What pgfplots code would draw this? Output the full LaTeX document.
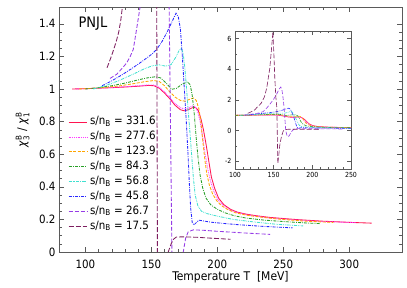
\documentclass[border=0pt]{standalone}
\usepackage{fontspec}
\setmainfont{DejaVu Sans Condensed}
\usepackage{amsmath}
\usepackage{pgfplots}
\usepackage{pgfplotstable}
\pgfplotsset{compat=1.18}

\definecolor{cA}{RGB}{255,20,80}
\definecolor{cB}{RGB}{255,60,255}
\definecolor{cC}{RGB}{255,165,0}
\definecolor{cD}{RGB}{40,160,40}
\definecolor{cE}{RGB}{64,224,208}
\definecolor{cF}{RGB}{40,40,255}
\definecolor{cG}{RGB}{150,60,230}
\definecolor{cH}{RGB}{125,30,95}
\definecolor{frame}{RGB}{90,90,90}

\pgfplotstableread{
T v
90 1.000
100 1.002
110 1.005
120 1.008
130 1.012
140 1.017
148 1.022
152 1.020
156 1.005
160 0.975
164 0.940
168 0.900
172 0.873
175 0.866
178 0.873
181 0.885
183.5 0.887
185.5 0.870
187.5 0.820
189.5 0.750
191.5 0.660
193.5 0.560
195.5 0.460
198 0.390
201 0.330
205 0.290
210 0.262
215 0.245
222 0.232
230 0.222
240 0.212
260 0.199
280 0.189
300 0.182
317 0.177
}\tA

\pgfplotstableread{
T v
93 1.000
105 1.003
120 1.009
135 1.017
148 1.025
152 1.024
156 1.010
160 0.982
164 0.948
168 0.910
172 0.885
175 0.878
178 0.884
181 0.895
183 0.893
185 0.865
187 0.800
189 0.700
191 0.590
193 0.500
195 0.430
197.5 0.370
200.5 0.320
204 0.288
209 0.260
215 0.242
222 0.229
230 0.219
240 0.208
260 0.196
280 0.187
305 0.180
}\tB

\pgfplotstableread{
T v
95 1.000
105 1.004
115 1.010
125 1.018
136 1.032
145 1.045
152 1.052
156 1.046
160 1.020
164 0.982
168 0.950
172 0.930
175.5 0.925
179 0.937
182 0.945
184 0.930
186 0.880
187.5 0.800
189 0.680
190.5 0.570
192 0.480
194 0.410
196.5 0.355
199.5 0.315
203 0.285
208 0.260
214 0.240
222 0.226
232 0.215
245 0.203
265 0.190
288 0.181
}\tC

\pgfplotstableread{
T v
100 1.000
110 1.008
120 1.020
130 1.036
138 1.052
146 1.067
153 1.075
157 1.068
161 1.038
165.5 0.998
169 1.004
173 1.028
177.5 1.044
179.5 1.025
181 0.960
182.5 0.850
184 0.700
185.5 0.570
187 0.470
189 0.390
191.5 0.330
195 0.290
200 0.262
206 0.240
213 0.222
222 0.208
235 0.196
250 0.187
265 0.179
278 0.174
}\tD

\pgfplotstableread{
T v
106 1.000
115 1.020
125 1.050
136 1.090
145 1.125
151 1.143
156 1.148
161 1.140
165 1.150
168.5 1.195
171 1.235
172.8 1.250
174.2 1.215
175.5 1.120
176.8 0.990
178 0.860
179.2 0.740
180.5 0.600
181.8 0.460
183.2 0.350
185.2 0.285
188 0.250
192 0.236
200 0.220
212 0.200
228 0.184
245 0.170
265 0.160
}\tE

\pgfplotstableread{
T v
112.6 1.020
120 1.050
128 1.088
136 1.130
144 1.175
151 1.218
154 1.243
158 1.290
162 1.350
165.5 1.410
168.7 1.465
170.5 1.440
172 1.370
173.5 1.200
175 1.000
176.5 0.800
177.8 0.600
178.8 0.420
179.8 0.270
181 0.180
182.3 0.166
184 0.180
186 0.195
188.5 0.192
195 0.183
205 0.175
215 0.168
235 0.157
257 0.148
}\tF

\pgfplotstableread{
T v
118.7 1.065
123.7 1.090
128 1.128
131.3 1.160
134 1.200
136.3 1.243
138.8 1.366
141.4 1.500
145 1.720
150 2.050
154 2.400
157 2.700
159.2 2.850
160.5 2.700
161.8 2.300
163.5 1.500
165.6 0.000
167.3 -0.330
168.8 -0.400
170.5 -0.300
172.5 -0.100
174.2 0.000
176 0.085
178 0.125
182 0.136
190 0.133
200 0.127
220 0.117
240 0.108
}\tG

\pgfplotstableread{
T v
116.4 1.130
119 1.185
121.5 1.243
123.5 1.295
125.3 1.350
126.8 1.420
128 1.500
131 1.640
134 1.800
138 2.200
141 2.770
145 4.070
147.5 5.500
149 6.450
150.3 5.000
151.5 3.400
152.8 2.200
154.1 1.500
154.6 0.000
155.4 -2.150
156.6 -1.600
158 -0.900
160 -0.400
162 -0.080
162.8 0.000
165 0.050
167 0.080
169 0.092
175 0.093
185 0.090
195 0.085
210 0.078
}\tH

\pgfplotsset{
  sA/.style={color=cA, solid},
  sB/.style={color=cB, dash pattern=on 0.9pt off 0.9pt},
  sC/.style={color=cC, dash pattern=on 3pt off 1.5pt},
  sD/.style={color=cD, dash pattern=on 3pt off 1.2pt on 0.8pt off 1.2pt},
  sE/.style={color=cE, dash pattern=on 3pt off 1pt on 0.7pt off 1pt on 0.7pt off 1pt},
  sF/.style={color=cF, dash pattern=on 3pt off 1.2pt on 0.8pt off 1.2pt},
  sG/.style={color=cG, dash pattern=on 4pt off 2pt},
  sH/.style={color=cH, dash pattern=on 5pt off 2pt},
  common/.style={
    scale only axis,
    tick align=inside,
    axis line style={frame},
    every tick/.style={frame},
    /pgf/number format/assume math mode=true,
  }
}

\begin{document}
\begin{tikzpicture}
\begin{axis}[common,
  at={(0,0)}, anchor=south west,
  width=343bp, height=244.5bp,
  xmin=80, xmax=340, ymin=0, ymax=1.5,
  xtick={100,150,200,250,300}, minor x tick num=4,
  ytick={0,0.2,0.4,0.6,0.8,1,1.2,1.4}, minor y tick num=3,
  major tick length=5bp, minor tick length=3bp,
  ticklabel style={font=\fontsize{11.5}{13}\selectfont},
  xticklabel style={yshift=-4bp},
  xlabel={Temperature T\ \ [MeV]},
  xlabel style={font=\fontsize{12}{14}\selectfont, at={(axis description cs:0.5,-0.1186)}, anchor=base},
  ylabel={\textit{χ}$_{\text{3}}^{\text{B}}$ / \textit{χ}$_{\text{1}}^{\text{B}}$},
  ylabel style={font=\fontsize{12}{14}\selectfont, at={(axis description cs:-0.0962,0.5)}, anchor=base},
  every axis plot/.append style={line width=0.85pt},
  legend cell align=left,
  legend image code/.code={\draw[#1] (0bp,0bp) -- (18bp,0bp);},
  legend style={draw=none, fill=none, at={(rel axis cs:0.027,0.553)}, anchor=north west,
    inner sep=0pt, outer sep=0pt, font=\fontsize{11.5}{13}\selectfont, row sep=4.4bp,
    nodes={inner sep=0pt, text height=8bp, text depth=2.5bp},
    /tikz/every odd column/.append style={column sep=3bp}},
]
\addplot[sA] table {\tA}; \addlegendentry{s/n\textsubscript{B} = 331.6}
\addplot[sB] table {\tB}; \addlegendentry{s/n\textsubscript{B} = 277.6}
\addplot[sC] table {\tC}; \addlegendentry{s/n\textsubscript{B} = 123.9}
\addplot[sD] table {\tD}; \addlegendentry{s/n\textsubscript{B} = 84.3}
\addplot[sE] table {\tE}; \addlegendentry{s/n\textsubscript{B} = 56.8}
\addplot[sF] table {\tF}; \addlegendentry{s/n\textsubscript{B} = 45.8}
\addplot[sG] table {\tG}; \addlegendentry{s/n\textsubscript{B} = 26.7}
\addplot[sH] table {\tH}; \addlegendentry{s/n\textsubscript{B} = 17.5}
\node[font=\fontsize{14.5}{16}\selectfont] at (rel axis cs:0.099,0.932) {PNJL};
\end{axis}

\begin{axis}[common,
  at={(176bp,83bp)}, anchor=south west,
  width=116bp, height=138bp,
  xmin=100, xmax=250, ymin=-2.5, ymax=6.5,
  xtick={100,150,200,250}, minor x tick num=4,
  ytick={-2,0,2,4,6}, minor y tick num=1,
  major tick length=4bp, minor tick length=2bp,
  ticklabel style={font=\fontsize{7}{8}\selectfont},
  axis background/.style={fill=white},
  every axis plot/.append style={line width=0.6pt},
]
\addplot[sA] table {\tA};
\addplot[sB] table {\tB};
\addplot[sC] table {\tC};
\addplot[sD] table {\tD};
\addplot[sE] table {\tE};
\addplot[sF] table {\tF};
\addplot[sG] table {\tG};
\addplot[sH] table {\tH};
\end{axis}
\pgfresetboundingbox
\useasboundingbox (-59bp,-36bp) rectangle (348bp,252bp);
\end{tikzpicture}
\end{document}
